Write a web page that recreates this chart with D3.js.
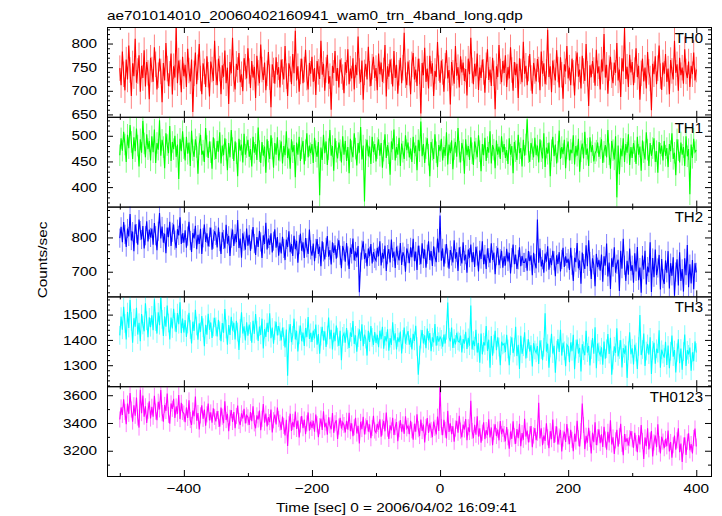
<!DOCTYPE html>
<html><head><meta charset="utf-8">
<script src="https://cdn.jsdelivr.net/npm/d3@7"></script>
<style>body{margin:0;background:#fff}</style>
</head><body>
<svg id="c" width="722" height="516"></svg>
<script>
const title = "ae701014010_20060402160941_wam0_trn_4band_long.qdp";
const xLabel = "Time [sec] 0 = 2006/04/02 16:09:41";
const yLabel = "Counts/sec";
const seriesNames = ["TH0", "TH1", "TH2", "TH3", "TH0123"];
const timeStart = -500, timeEnd = 400, binSec = 2;
const xDomain = [-520, 423];
const xMajorTicks = [-400, -200, 0, 200, 400];
const xMinorTicks = [-500, -300, -100, 100, 300];
const yDomains = [[645, 835], [362, 537], [628, 890], [1217, 1572], [3018, 3665]];
const yTickLabels = [[650, 700, 750, 800], [400, 450, 500], [700, 800], [1300, 1400, 1500], [3200, 3400, 3600]];
const yMinorStep = [10, 10, 20, 20, 100];
const errors = [27, 21, 28, 37, 58];

const th0 = [
748,712,783,735,701,766,724,796,744,689,758,731,810,717,742,775,698,753,727,786,709,761,738,682,770,
745,719,792,756,703,733,768,741,676,759,722,801,747,710,736,779,692,752,728,835,716,764,739,697,772,
731,755,708,789,743,720,766,655,737,781,714,750,799,726,693,758,741,708,773,734,688,762,745,721,806,
739,712,768,747,693,754,730,785,716,749,672,761,737,812,725,703,757,744,780,718,735,699,769,751,726,
790,742,706,763,728,751,685,774,738,716,798,745,723,760,701,737,782,729,665,756,743,715,771,734,750,
707,766,740,724,795,731,689,758,746,714,778,737,827,722,752,698,741,768,716,745,787,728,703,759,736,
772,719,748,691,763,740,725,806,734,757,700,744,776,715,731,660,753,738,784,721,748,707,766,742,729,
695,761,738,788,714,747,726,769,703,755,733,815,742,718,764,681,739,757,724,793,736,710,751,772,727,
748,701,779,735,760,719,743,797,688,752,730,766,741,709,784,727,755,694,738,770,716,749,823,733,712,
762,738,693,756,780,724,745,710,768,741,652,759,733,791,719,747,705,774,736,758,689,742,729,803,748,
717,764,740,698,753,786,726,744,671,761,738,715,795,732,750,707,773,739,760,721,746,690,768,735,812,
743,714,757,731,779,702,749,727,766,740,696,754,788,723,745,710,770,737,661,752,729,797,741,718,763,
738,775,708,750,726,792,744,700,761,733,757,685,769,741,718,804,736,753,712,747,778,727,694,759,742,
720,767,745,701,783,736,758,714,740,829,729,752,697,764,739,722,786,745,707,771,734,683,756,741,795,
726,749,712,768,738,690,757,781,730,745,705,774,742,721,799,736,668,754,729,763,744,711,787,737,752,
703,766,741,820,728,755,694,748,772,733,716,760,738,801,722,745,687,769,741,834,725,751,708,776,739,
761,712,744,790,729,753,681,737,768,720,749,705,782,740,726,659,757,735,773,714,748,796,731,702,760,
736,778,719,747,693,765,742,724,806,738,756,700,770,733,749,715,788,741,727,762,708,753,735,781,722,
745];

const th1 = [
462,495,471,508,483,449,502,476,521,488,455,497,470,514,481,440,493,467,529,485,458,503,474,490,452,
499,468,512,447,486,473,530,461,492,478,437,505,482,466,519,451,488,474,500,459,483,416,494,470,509,
476,452,498,465,487,441,510,472,459,493,478,426,484,502,463,471,449,515,480,457,489,468,436,497,474,
455,490,469,507,446,481,462,495,473,433,486,458,511,476,451,489,466,421,494,471,483,448,504,463,478,
492,459,474,440,498,467,484,453,516,470,447,488,461,479,428,493,469,455,501,475,438,486,463,497,452,
471,489,446,480,462,509,457,475,436,493,468,482,419,487,463,498,451,476,490,444,472,505,458,481,466,
484,447,496,470,459,488,384,477,453,502,466,489,443,474,511,461,480,432,495,469,456,487,472,448,499,
463,490,451,478,427,494,470,458,505,475,442,486,467,517,454,481,372,473,492,460,479,445,498,468,484,
450,476,493,461,486,438,471,503,457,482,466,424,489,474,512,452,478,463,496,441,485,469,455,501,472,
487,458,475,449,498,466,481,433,492,470,528,460,484,447,476,495,463,421,488,473,455,503,468,439,482,
470,494,452,478,461,507,444,483,466,491,435,474,488,459,515,469,448,486,472,426,493,462,480,453,497,
466,443,489,475,458,501,470,431,484,462,496,451,478,467,509,446,482,473,437,491,463,479,455,499,468,
484,457,472,445,495,463,480,427,488,470,453,502,466,476,440,492,461,483,532,468,449,486,474,458,496,
462,481,448,493,470,456,505,439,477,465,487,421,472,498,460,483,446,469,510,455,478,464,492,437,475,
489,452,473,466,501,444,480,461,494,430,470,485,456,508,463,475,441,497,468,482,450,466,471,487,459,
476,493,447,469,482,458,511,464,436,490,472,454,499,380,481,425,475,460,495,449,484,467,503,443,478,
457,486,470,445,498,463,479,432,491,468,454,507,473,441,486,461,476,495,449,470,428,488,465,481,452,
490,461,476,439,484,470,505,455,467,423,493,472,448,487,463,478,441,499,460,474,386,483,457,494,468,
472];

const th2 = [
798,831,786,845,809,772,826,803,868,791,817,760,838,811,779,852,820,794,833,768,805,847,788,823,800,
826,779,842,805,763,818,871,797,832,785,811,754,829,801,846,775,815,838,792,769,824,806,859,781,812,
785,821,770,804,846,791,758,813,797,834,766,808,781,825,752,799,838,787,812,774,801,829,764,795,818,
806,771,829,788,752,815,794,768,837,782,805,746,798,823,775,810,786,851,769,797,741,812,789,764,826,
776,808,761,795,830,782,749,801,772,819,787,740,806,781,843,765,797,778,812,756,789,824,770,801,747,
785,753,802,768,734,794,772,818,757,781,746,805,766,790,726,779,811,761,786,740,798,770,752,823,764,
747,782,731,768,795,752,773,716,789,758,736,771,804,744,763,721,786,755,777,738,769,792,748,710,775,
761,729,784,746,708,770,752,797,733,759,742,775,640,728,763,789,737,754,716,768,745,781,724,757,739,
732,770,745,789,718,755,738,776,702,750,766,727,794,741,759,711,773,748,733,784,720,757,745,700,768,
753,725,771,742,796,731,759,705,776,748,722,783,739,765,712,751,789,734,760,717,774,743,728,797,756,
864,732,768,715,752,781,740,709,763,746,727,792,738,757,702,771,745,724,786,733,750,697,765,741,779,
728,757,714,773,746,701,762,737,789,722,750,708,768,741,726,783,734,756,693,747,770,719,738,761,712,
745,718,767,730,755,695,741,779,722,750,708,735,771,716,746,727,727,739,703,760,731,748,690,755,724,
710,852,726,768,715,735,697,753,729,774,706,740,719,761,732,687,748,723,757,701,736,770,714,745,726,
738,705,770,719,673,741,728,784,710,733,665,756,724,708,777,716,792,730,679,739,720,658,752,713,735,
703,750,671,745,718,782,686,727,650,739,714,771,697,722,735,644,761,709,796,719,673,732,691,768,702,
719,668,754,701,772,675,712,639,747,706,761,663,715,698,786,641,740,684,765,690,711,749,648,737,680,
664,733,697,760,651,725,688,742,630,699,736,660,757,673,708,642,739,690,778,655,722,666,734,649,725,
698];

const th3 = [
1418,1492,1440,1531,1465,1402,1510,1447,1558,1473,1389,1486,1452,1527,1421,1468,1395,1502,1459,1434,1545,1476,1411,1489,1450,
1497,1438,1561,1472,1425,1509,1458,1570,1481,1416,1493,1452,1536,1467,1402,1488,1445,1523,1470,1431,1506,1462,1549,1427,1484,
1429,1478,1412,1463,1507,1441,1386,1472,1436,1519,1455,1401,1466,1432,1494,1448,1375,1460,1421,1503,1440,1469,1408,1451,1487,
1452,1414,1479,1436,1395,1467,1428,1522,1443,1381,1459,1420,1491,1437,1468,1402,1475,1431,1360,1446,1509,1425,1454,1398,1470,
1417,1461,1433,1389,1476,1424,1502,1438,1396,1453,1420,1484,1366,1443,1412,1468,1431,1505,1407,1449,1385,1437,1472,1418,1455,
1432,1398,1449,1413,1370,1441,1258,1425,1463,1391,1418,1484,1402,1436,1354,1420,1457,1395,1429,1376,1447,1411,1490,1404,1428,
1392,1437,1406,1461,1381,1423,1345,1415,1452,1398,1434,1372,1419,1488,1403,1440,1362,1428,1395,1457,1411,1376,1436,1320,1414,
1426,1389,1447,1401,1368,1430,1412,1475,1384,1418,1353,1409,1442,1396,1462,1375,1421,1403,1338,1436,1392,1455,1410,1380,1431,
1388,1420,1371,1436,1403,1452,1365,1415,1394,1442,1357,1407,1380,1470,1398,1426,1362,1410,1391,1433,1346,1402,1449,1385,1417,
1435,1381,1408,1362,1424,1396,1456,1374,1262,1340,1403,1439,1386,1418,1367,1445,1398,1427,1355,1410,1390,1463,1377,1415,1393,
1412,1402,1373,1421,1386,1438,1548,1410,1394,1449,1368,1405,1382,1428,1396,1391,1417,1350,1403,1385,1432,1364,1408,1377,1536,
1362,1397,1375,1440,1350,1388,1310,1425,1343,1391,1378,1455,1356,1401,1290,1415,1338,1384,1436,1359,1410,1372,1300,1393,1380,
1385,1352,1420,1364,1300,1377,1410,1348,1371,1452,1336,1381,1285,1416,1345,1373,1430,1327,1366,1402,1354,1379,1295,1387,1360,
1349,1376,1305,1398,1362,1320,1371,1505,1354,1385,1290,1368,1424,1346,1377,1270,1360,1403,1352,1440,1338,1389,1357,1296,1381,
1373,1312,1390,1355,1420,1284,1364,1401,1346,1369,1275,1383,1357,1339,1436,1350,1376,1299,1362,1407,1345,1450,1288,1386,1353,
1340,1371,1302,1394,1326,1365,1423,1344,1408,1262,1320,1375,1349,1446,1335,1362,1399,1291,1368,1346,1378,1250,1357,1430,1343,
1367,1303,1381,1352,1285,1374,1498,1340,1362,1425,1297,1356,1384,1342,1410,1265,1359,1389,1306,1365,1348,1438,1290,1361,1344,
1330,1393,1301,1378,1288,1355,1417,1334,1360,1271,1349,1402,1308,1366,1282,1354,1421,1297,1359,1343,1370,1278,1351,1316,1394,
1350];

const th0123 = [
3425,3512,3458,3571,3480,3392,3540,3466,3615,3497,3410,3528,3452,3583,3439,3367,3640,3471,3598,3446,3520,3401,3488,3556,3432,
3517,3445,3596,3482,3420,3553,3498,3638,3471,3409,3530,3486,3612,3458,3395,3541,3502,3574,3437,3519,3466,3601,3428,3545,3480,
3468,3405,3512,3437,3563,3421,3386,3490,3448,3591,3416,3472,3353,3455,3528,3430,3497,3381,3462,3540,3419,3476,3402,3505,3444,
3412,3486,3429,3373,3511,3445,3398,3557,3421,3466,3340,3438,3493,3407,3478,3362,3450,3525,3415,3385,3470,3432,3502,3396,3455,
3441,3386,3478,3413,3520,3397,3362,3455,3425,3489,3348,3430,3536,3402,3468,3375,3443,3406,3497,3331,3420,3461,3389,3512,3428,
3402,3351,3446,3379,3310,3423,3235,3391,3467,3342,3408,3370,3482,3357,3418,3296,3389,3450,3362,3425,3320,3397,3476,3345,3410,
3364,3415,3338,3460,3391,3297,3377,3432,3350,3485,3369,3402,3316,3441,3383,3355,3472,3329,3398,3420,3285,3374,3438,3360,3405,
3385,3332,3416,3352,3474,3341,3397,3305,3369,3438,3324,3380,3252,3408,3356,3445,3318,3375,3420,3337,3391,3290,3364,3452,3346,
3330,3394,3352,3427,3301,3368,3415,3340,3476,3359,3285,3383,3346,3438,3313,3372,3406,3268,3355,3421,3337,3390,3322,3448,3361,
3379,3320,3416,3348,3280,3395,3337,3462,3355,3306,3424,3342,3388,3260,3371,3435,3329,3397,3350,3298,3410,3365,3318,3446,3343,
3660,3370,3312,3423,3351,3289,3487,3336,3398,3320,3377,3265,3360,3415,3330,3452,3345,3297,3388,3353,3428,3276,3369,3335,3560,
3342,3290,3387,3315,3448,3302,3361,3258,3330,3405,3284,3349,3312,3426,3295,3368,3240,3336,3391,3306,3352,3275,3414,3320,3359,
3320,3268,3371,3297,3215,3338,3286,3412,3305,3250,3356,3291,3394,3232,3327,3279,3430,3302,3345,3260,3318,3378,3226,3310,3364,
3276,3330,3545,3289,3362,3240,3310,3271,3398,3297,3218,3341,3283,3425,3256,3319,3375,3245,3302,3350,3195,3288,3337,3264,3392,
3303,3248,3350,3279,3196,3322,3266,3415,3290,3230,3341,3540,3386,3212,3308,3258,3365,3285,3180,3330,3262,3405,3241,3297,3355,
3255,3318,3228,3372,3281,3207,3336,3260,3420,3245,3296,3176,3275,3351,3230,3305,3394,3250,3168,3320,3263,3290,3238,3290,3342,
3283,3221,3330,3254,3190,3312,3246,3385,3270,3140,3296,3233,3362,3210,3275,3342,3158,3260,3310,3225,3390,3248,3180,3301,3266,
3218,3285,3232,3346,3195,3263,3150,3240,3310,3208,3275,3362,3189,3252,3120,3238,3297,3170,3265,3326,3203,3248,3180,3292,3360,
3230];

const seriesValues = [th0, th1, th2, th3, th0123];
const colors = ["#ff0000", "#00ff00", "#0000ff", "#00ffff", "#ff00ff"];
const times = d3.range(timeStart, timeEnd + 0.001, binSec);

const svg = d3.select("#c");
const FONT = "'Liberation Sans', Arial, Helvetica, sans-serif";
const SX = 1.18;
function stext(x, y, str, anchor, size, rot, sx) {
  const g = svg.append("g").attr("transform", `translate(${x},${y}) rotate(${rot || 0}) scale(${sx},1)`);
  g.append("text").attr("text-anchor", anchor).attr("font-size", size)
    .attr("font-family", FONT).attr("fill", "#000").text(str);
}

const L = 107, R = 711, TOP = 27, PH = 89.8;
const x = d3.scaleLinear().domain(xDomain).range([L, R]);
const fmt = v => v < 0 ? "\u2212" + Math.abs(v) : String(v);

seriesValues.forEach((vals, i) => {
  const top = TOP + i * PH, bot = top + PH;
  const y = d3.scaleLinear().domain(yDomains[i]).range([bot, top]);
  const cid = "clip" + i;
  svg.append("clipPath").attr("id", cid).append("rect")
    .attr("x", L).attr("y", top).attr("width", R - L).attr("height", PH);
  const g = svg.append("g").attr("clip-path", `url(#${cid})`);
  const n = Math.min(vals.length, times.length);
  const pts = d3.range(n).map(j => [times[j], vals[j]]);
  const e = errors[i];
  g.append("path")
    .attr("d", pts.map(p => `M${x(p[0]).toFixed(2)},${y(p[1] - e).toFixed(2)}V${y(p[1] + e).toFixed(2)}`).join(""))
    .attr("stroke", colors[i]).attr("stroke-opacity", 0.5).attr("stroke-width", 1).attr("fill", "none");
  g.append("path")
    .attr("d", d3.line().x(p => x(p[0])).y(p => y(p[1]))(pts))
    .attr("stroke", colors[i]).attr("stroke-width", 1.1).attr("fill", "none");

  const [lo, hi] = yDomains[i];
  const ms = yMinorStep[i];
  const minor = d3.range(Math.ceil(lo / ms) * ms, hi, ms).filter(v => !yTickLabels[i].includes(v));
  const addAxis = (axis, tx, ty) => {
    const a = svg.append("g").attr("transform", `translate(${tx},${ty})`).call(axis);
    a.select(".domain").remove();
    a.selectAll("line").attr("stroke", "#000");
  };
  addAxis(d3.axisLeft(y).tickValues(minor).tickSize(-3).tickFormat(""), L, 0);
  addAxis(d3.axisLeft(y).tickValues(yTickLabels[i]).tickSize(-6).tickFormat(""), L, 0);
  addAxis(d3.axisRight(y).tickValues(minor).tickSize(-3).tickFormat(""), R, 0);
  addAxis(d3.axisRight(y).tickValues(yTickLabels[i]).tickSize(-6).tickFormat(""), R, 0);
  addAxis(d3.axisTop(x).tickValues(xMinorTicks).tickSize(-3).tickFormat(""), 0, top);
  addAxis(d3.axisTop(x).tickValues(xMajorTicks).tickSize(-6).tickFormat(""), 0, top);
  addAxis(d3.axisBottom(x).tickValues(xMinorTicks).tickSize(-3).tickFormat(""), 0, bot);
  addAxis(d3.axisBottom(x).tickValues(xMajorTicks).tickSize(-6).tickFormat(""), 0, bot);

  svg.append("rect").attr("x", L + 0.5).attr("y", top + 0.5).attr("width", R - L).attr("height", PH)
    .attr("fill", "none").attr("stroke", "#000").attr("stroke-width", 1);

  yTickLabels[i].forEach(v => stext(97, y(v) + 4.6, String(v), "end", 13, 0, SX));
  stext(703, top + 15.7, seriesNames[i], "end", 15, 0, 1);

  if (i === seriesValues.length - 1) {
    xMajorTicks.forEach(t => stext(x(t), 493.3, fmt(t), "middle", 13, 0, SX));
  }
});

stext(107, 20, title, "start", 13, 0, SX);
stext(396.4, 511.5, xLabel, "middle", 13, 0, SX);
stext(47, 260, yLabel, "middle", 13, -90, SX);
</script>
</body></html>
